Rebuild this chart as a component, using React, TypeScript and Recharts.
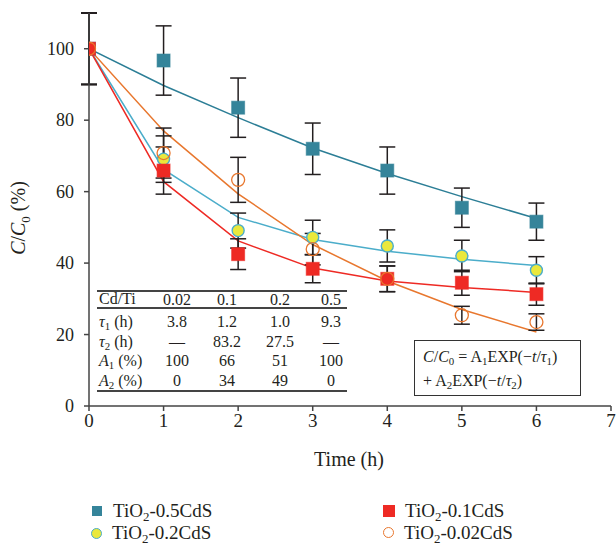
import { ComposedChart, Line, Scatter, ErrorBar, XAxis, YAxis } from 'recharts';

const times = [0, 1, 2, 3, 4, 5, 6];
const xTicks = [0, 1, 2, 3, 4, 5, 6, 7];
const yTicks = [0, 20, 40, 60, 80, 100];

const cds05Measured = [100, 96.7, 83.5, 72.0, 65.9, 55.5, 51.6];
const cds05Error = [10, 9.7, 8.3, 7.2, 6.6, 5.5, 5.2];
const cds05Fit = [100, 89.7, 80.7, 72.2, 65.1, 58.6, 52.5];

const cds02Measured = [100, 69.1, 49.1, 47.2, 44.8, 42.0, 38.0];
const cds02Error = [10, 6.5, 4.9, 4.8, 4.5, 4.4, 3.8];
const cds02Fit = [100, 66.2, 52.8, 46.6, 43.3, 41.1, 39.3];

const cds01Measured = [100, 65.9, 42.5, 38.4, 35.6, 34.5, 31.3];
const cds01Error = [10, 6.6, 4.3, 3.9, 3.6, 3.5, 3.1];
const cds01Fit = [100, 62.8, 46.2, 38.6, 35.0, 33.2, 31.8];

const cds002Measured = [100, 70.8, 63.3, 43.9, 35.6, 25.4, 23.5];
const cds002Error = [10, 7.0, 6.3, 4.4, 3.6, 2.5, 2.3];
const cds002Fit = [100, 77.0, 59.4, 45.2, 35.0, 27.0, 20.7];

// fit parameter table
const ratios = ['0.02', '0.1', '0.2', '0.5'];
const tau1 = ['3.8', '1.2', '1.0', '9.3'];
const tau2 = ['—', '83.2', '27.5', '—'];
const amp1 = ['100', '66', '51', '100'];
const amp2 = ['0', '34', '49', '0'];

const TEAL = '#35849A';
const LIGHT_BLUE = '#4BADCA';
const YELLOW = '#EAE83C';
const RED = '#EE2A24';
const ORANGE = '#E8772E';
const INK = '#231F20';
const SERIF = '"Liberation Serif", "DejaVu Serif", serif';

const fitRows = times.map((t, i) => ({
  t,
  f05: cds05Fit[i],
  f02: cds02Fit[i],
  f01: cds01Fit[i],
  f002: cds002Fit[i],
}));

const points = (vals: number[], errs: number[]) =>
  times.map((t, i) => ({ t, v: vals[i], e: errs[i] }));

const Square = (color: string) => (p: any) => (
  <rect x={p.cx - 6.5} y={p.cy - 6.5} width={13} height={13} fill={color} stroke={color} strokeOpacity={0.6} />
);
const YellowDot = (p: any) => (
  <circle cx={p.cx} cy={p.cy} r={6} fill={YELLOW} stroke={LIGHT_BLUE} strokeWidth={1.4} />
);
const OpenDot = (p: any) => (
  <circle cx={p.cx} cy={p.cy} r={6.5} fill="none" stroke={ORANGE} strokeWidth={1.3} />
);

// tick labels drawn with an explicit serif face
const XTick = (p: any) => (
  <text x={p.x} y={p.y + 7} textAnchor="middle" fill={INK} fontSize={19} fontFamily={SERIF}>
    {p.payload.value}
  </text>
);
const YTick = (p: any) => (
  <text x={p.x} y={p.y + 6} textAnchor="end" fill={INK} fontSize={18} fontFamily={SERIF}>
    {p.payload.value}
  </text>
);

const Sub = ({ children }: { children: any }) => (
  <span style={{ fontSize: '0.68em', verticalAlign: '-0.32em' }}>{children}</span>
);

const tableRows = [
  { label: <><i>τ</i><Sub>1</Sub> (h)</>, vals: tau1 },
  { label: <><i>τ</i><Sub>2</Sub> (h)</>, vals: tau2 },
  { label: <><i>A</i><Sub>1</Sub> (%)</>, vals: amp1 },
  { label: <><i>A</i><Sub>2</Sub> (%)</>, vals: amp2 },
];
const colCenters = [177, 227, 280, 331];

const legendItems = [
  { name: '0.5CdS', left: 88, top: 501, marker: <div style={{ width: 10, height: 10, background: TEAL, margin: '5px 4px' }} /> },
  { name: '0.2CdS', left: 88, top: 523, marker: <div style={{ width: 9, height: 9, borderRadius: '50%', background: YELLOW, border: `1.5px solid ${LIGHT_BLUE}`, margin: '5px 3px' }} /> },
  { name: '0.1CdS', left: 380, top: 501, marker: <div style={{ width: 12, height: 12, background: RED, margin: '4px 3px' }} /> },
  { name: '0.02CdS', left: 380, top: 523, marker: <div style={{ width: 9, height: 9, borderRadius: '50%', border: `1.5px solid ${ORANGE}`, margin: '4px 3px' }} /> },
];

export default function App() {
  return (
    <div style={{ position: 'absolute', left: 0, top: 0, width: 616, height: 545, overflow: 'hidden', background: '#fff', fontFamily: SERIF, color: INK }}>
      <ComposedChart width={616} height={480} data={fitRows} margin={{ top: 13, right: 5, bottom: 34, left: 29 }}>
        <XAxis
          dataKey="t"
          type="number"
          domain={[0, 7]}
          ticks={xTicks}
          allowDataOverflow
          stroke="#444"
          strokeWidth={1.5}
          tickSize={5}
          tickMargin={9}
          height={40}
          tick={XTick}
          label={{
            content: () => (
              <text x={349} y={466} textAnchor="middle" fill={INK} fontSize={20} fontFamily={SERIF}>
                Time (h)
              </text>
            ),
          }}
        />
        <YAxis
          type="number"
          domain={[0, 110]}
          ticks={yTicks}
          allowDataOverflow
          width={60}
          stroke="#444"
          strokeWidth={1.5}
          tickSize={5}
          tickMargin={10}
          tick={YTick}
          label={{
            content: () => (
              <text x={25} y={218} transform="rotate(-90 25 218)" textAnchor="middle" fill={INK} fontSize={20} fontFamily={SERIF}>
                <tspan fontStyle="italic">C</tspan>/<tspan fontStyle="italic">C</tspan>
                <tspan fontSize={13} dy={5}>0</tspan>
                <tspan dy={-5}> (%)</tspan>
              </text>
            ),
          }}
        />
        <Line dataKey="f05" stroke="#2C7E96" strokeWidth={1.5} dot={false} isAnimationActive={false} />
        <Line dataKey="f02" stroke={LIGHT_BLUE} strokeWidth={1.5} dot={false} isAnimationActive={false} />
        <Line dataKey="f01" stroke={RED} strokeWidth={1.5} dot={false} isAnimationActive={false} />
        <Line dataKey="f002" stroke={ORANGE} strokeWidth={1.5} dot={false} isAnimationActive={false} />
        <Scatter data={points(cds05Measured, cds05Error)} dataKey="v" shape={Square(TEAL)} isAnimationActive={false}>
          <ErrorBar dataKey="e" direction="y" width={8} stroke={INK} strokeWidth={1.5} />
        </Scatter>
        <Scatter data={points(cds02Measured, cds02Error)} dataKey="v" shape={YellowDot} isAnimationActive={false}>
          <ErrorBar dataKey="e" direction="y" width={8} stroke={INK} strokeWidth={1.5} />
        </Scatter>
        <Scatter data={points(cds01Measured, cds01Error)} dataKey="v" shape={Square(RED)} isAnimationActive={false}>
          <ErrorBar dataKey="e" direction="y" width={8} stroke={INK} strokeWidth={1.5} />
        </Scatter>
        <Scatter data={points(cds002Measured, cds002Error)} dataKey="v" shape={OpenDot} isAnimationActive={false}>
          <ErrorBar dataKey="e" direction="y" width={8} stroke={INK} strokeWidth={1.5} />
        </Scatter>
      </ComposedChart>

      {/* parameter table */}
      <div style={{ position: 'absolute', left: 97, top: 290, width: 250, height: 102, fontSize: 16, lineHeight: '19px' }}>
        <div style={{ position: 'absolute', left: 0, right: 0, top: 0, borderTop: '2px solid #444' }} />
        <div style={{ position: 'absolute', left: 0, right: 0, top: 17, borderTop: '2px solid #444' }} />
        <div style={{ position: 'absolute', left: 0, right: 0, top: 100, borderTop: '2px solid #444' }} />
        <div style={{ position: 'absolute', left: 2, top: -1 }}>Cd/Ti</div>
        {ratios.map((r, j) => (
          <div key={r} style={{ position: 'absolute', left: colCenters[j] - 97 - 22, width: 44, top: 0, textAlign: 'center' }}>{r}</div>
        ))}
        {tableRows.map((row, i) => (
          <div key={i}>
            <div style={{ position: 'absolute', left: 2, top: 22 + i * 19.5 }}>{row.label}</div>
            {row.vals.map((v, j) => (
              <div key={j} style={{ position: 'absolute', left: colCenters[j] - 97 - 22, width: 44, top: 22 + i * 19.5, textAlign: 'center' }}>{v}</div>
            ))}
          </div>
        ))}
      </div>

      {/* model formula */}
      <div style={{ position: 'absolute', left: 414, top: 340, width: 167, height: 56, border: '1.5px solid #333', fontSize: 16, lineHeight: '20px', padding: '6px 0 0 8px', boxSizing: 'border-box' }}>
        <div><i>C</i>/<i>C</i><Sub>0</Sub> = A<Sub>1</Sub>EXP(−<i>t</i>/<i>τ</i><Sub>1</Sub>)</div>
        <div>+ A<Sub>2</Sub>EXP(−<i>t</i>/<i>τ</i><Sub>2</Sub>)</div>
      </div>

      {/* legend */}
      {legendItems.map((it) => (
        <div key={it.name} style={{ position: 'absolute', left: it.left, top: it.top, display: 'flex', alignItems: 'flex-start', fontSize: 19, lineHeight: '20px' }}>
          {it.marker}
          <span style={{ marginLeft: 7 }}>TiO<Sub>2</Sub>-{it.name}</span>
        </div>
      ))}
    </div>
  );
}
